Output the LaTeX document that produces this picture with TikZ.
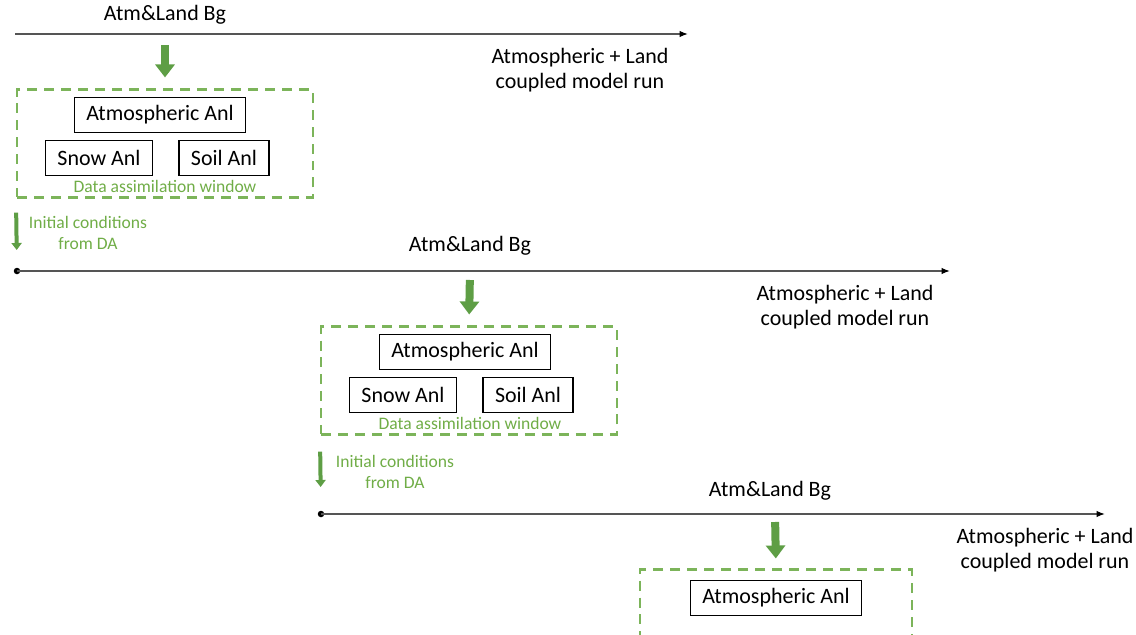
\documentclass[tikz,border=0pt]{standalone}
\usepackage{fontspec}
\setmainfont{Carlito}
\usepackage{tikz}
\usetikzlibrary{arrows.meta, positioning, calc}
\usepackage{xcolor}
\definecolor{dagreen}{HTML}{5E9E45}
\definecolor{daline}{HTML}{7CB45A}
\definecolor{datext}{HTML}{70AD47}
\definecolor{tlgray}{HTML}{555555}

\begin{document}
\begin{tikzpicture}[
  x=0.02cm, y=-0.02cm,
  lbl/.style={font=\fontsize{12.5}{14}\selectfont, inner sep=0pt},
  anl/.style={draw, line width=0.8pt, font=\fontsize{12.5}{14}\selectfont,
    inner xsep=0.24cm, minimum height=0.7cm},
  dabox/.style={draw=daline, line width=1.2pt, dash pattern=on 0.2cm off 0.14cm,
    minimum width=5.92cm, minimum height=2.16cm},
  win/.style={font=\fontsize{10}{11}\selectfont, text=datext, inner sep=0pt},
  ictext/.style={font=\fontsize{10}{12}\selectfont, text=datext, align=center, inner sep=0pt},
  timeline/.style={draw=tlgray, line width=0.7pt, -{Latex[length=0.17cm, width=0.13cm, color=black]}},
  bgarrow/.style={draw=dagreen, line width=0.16cm, -{Triangle[length=0.26cm, width=0.38cm]}},
  icarrow/.style={draw=dagreen, line width=0.08cm, -{Triangle[length=0.14cm, width=0.2cm]}},
  dot/.style={circle, fill=black, inner sep=0pt, minimum size=0.13cm}
]
  \useasboundingbox (0,0) rectangle (1136,635);
  \clip (0,0) rectangle (1136,635);

  % --- first run ---
  \coordinate (t1s) at (15,34);
  \coordinate (t1e) at (688,34);
  \draw[timeline] (t1s) -- (t1e);
  \node[lbl] (bg1) at (165,15) {Atm\&Land Bg};
  \node[lbl, align=center] (run1) at (580,70) {Atmospheric + Land\\coupled model run};

  \node[dabox] (da1) at (165,143.5) {};
  \node[anl] (atm1) at (160,115) {Atmospheric Anl};
  \node[anl] (snow1) at (99,158) {Snow Anl};
  \node[anl] (soil1) at (224,158) {Soil Anl};
  \node[win] (win1) at (165,186) {Data assimilation window};
  \draw[bgarrow, shorten <=0.22cm, shorten >=0.22cm] (bg1 |- t1s) -- (da1.north);

  % Initial conditions to the second run
  \node[dot] (t2s) at (17,271) {};
  \draw[icarrow, shorten <=0.28cm, shorten >=0.42cm] (da1.south west) -- (t2s.center);
  \node[ictext] (ic1) at (88,233) {Initial conditions\\from DA};

  % --- second run ---
  \coordinate (t2e) at (950,271);
  \draw[timeline] (t2s.center) -- (t2e);
  \node[lbl] (bg2) at (470,246) {Atm\&Land Bg};
  \node[lbl, align=center] (run2) at (845,307) {Atmospheric + Land\\coupled model run};

  \node[dabox] (da2) at (469,380.5) {};
  \node[anl] (atm2) at (465,352) {Atmospheric Anl};
  \node[anl] (snow2) at (403,395) {Snow Anl};
  \node[anl] (soil2) at (528,395) {Soil Anl};
  \node[win] (win2) at (470,423) {Data assimilation window};
  \draw[bgarrow, shorten <=0.18cm, shorten >=0.22cm] (bg2 |- t2s) -- (da2.north);

  % Initial conditions to the third run
  \node[dot] (t3s) at (321,514) {};
  \draw[icarrow, shorten <=0.32cm, shorten >=0.54cm] (da2.south west) -- (t3s.center);
  \node[ictext] (ic2) at (395,472) {Initial conditions\\from DA};

  % --- third run ---
  \coordinate (t3e) at (1105,514);
  \draw[timeline] (t3s.center) -- (t3e);
  \node[lbl] (bg3) at (770,491) {Atm\&Land Bg};
  \node[lbl, align=center] (run3) at (1045,550) {Atmospheric + Land\\coupled model run};

  \node[dabox, minimum width=5.44cm] (da3) at (776,623.5) {};
  \node[anl] (atm3) at (776,598) {Atmospheric Anl};
  \draw[bgarrow, shorten <=0.16cm, shorten >=0.2cm] ($(bg3 |- t3s)+(5,0)$) -- (da3.north);
\end{tikzpicture}
\end{document}
